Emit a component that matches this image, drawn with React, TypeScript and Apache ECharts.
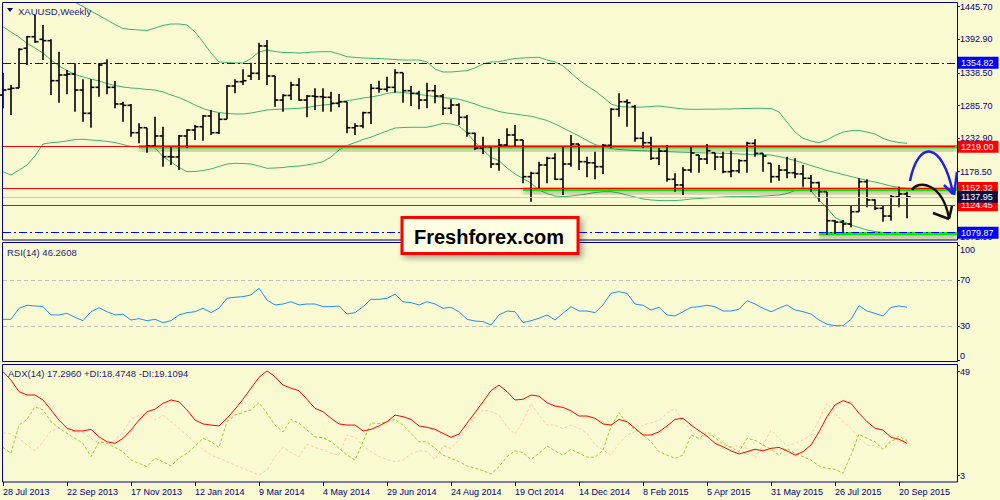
import React, { useEffect, useRef } from "react";
import * as echarts from "echarts";

const MONTHS = ["Jan", "Feb", "Mar", "Apr", "May", "Jun", "Jul", "Aug", "Sep", "Oct", "Nov", "Dec"];
const FIRST_WEEK = Date.UTC(2013, 6, 28);
const WEEK_COUNT = 120;
const weeks: string[] = Array.from({ length: WEEK_COUNT }, (_, i) => {
  const d = new Date(FIRST_WEEK + i * 7 * 86400000);
  return `${d.getUTCDate()} ${MONTHS[d.getUTCMonth()]} ${d.getUTCFullYear()}`;
});

const opens = [
  1302.7, 1312.0, 1314.1, 1378.4, 1397.1, 1392.9, 1390.7, 1325.9, 1335.1, 1336.7,
  1310.8, 1273.1, 1315.2, 1354.1, 1315.2, 1288.2, 1286.0, 1241.7, 1249.8, 1220.2,
  1236.4, 1202.9, 1202.4, 1236.4, 1246.1, 1251.4, 1268.8, 1241.7, 1263.4, 1317.3,
  1324.3, 1333.5, 1337.9, 1382.1, 1333.5, 1294.6, 1302.0, 1318.9, 1294.6, 1301.0,
  1300.0, 1299.0, 1289.3, 1291.9, 1249.8, 1252.6, 1274.1, 1313.6, 1312.0, 1315.2,
  1338.9, 1309.7, 1305.5, 1294.6, 1309.7, 1301.1, 1281.2, 1286.6, 1266.6, 1240.7,
  1216.5, 1219.1, 1191.0, 1221.8, 1238.0, 1229.9, 1170.5, 1176.0, 1189.4, 1200.3,
  1166.3, 1191.0, 1223.4, 1194.8, 1193.0, 1186.7, 1221.3, 1279.6, 1291.9, 1284.0,
  1232.6, 1225.5, 1200.3, 1212.0, 1166.3, 1157.1, 1181.3, 1205.6, 1199.1, 1209.3,
  1202.4, 1178.6, 1180.0, 1196.4, 1224.5, 1208.3, 1192.2, 1170.5, 1181.3, 1176.9,
  1175.0, 1167.9, 1160.8, 1146.2, 1099.2, 1097.0, 1093.9, 1113.8, 1162.4, 1132.8,
  1119.3, 1106.8, 1138.1, 1142.5,
];
const highs = [
  1338.9, 1318.9, 1378.4, 1398.3, 1432.3, 1416.1, 1392.9, 1372.9, 1343.2, 1354.1,
  1328.2, 1328.2, 1354.1, 1360.5, 1325.4, 1291.9, 1288.2, 1257.0, 1249.8, 1267.6,
  1251.4, 1219.1, 1238.0, 1247.2, 1254.2, 1270.4, 1278.5, 1273.6, 1318.9, 1328.2,
  1344.3, 1355.0, 1387.4, 1391.8, 1333.5, 1303.9, 1324.3, 1329.8, 1302.7, 1313.6,
  1313.6, 1308.1, 1304.4, 1291.9, 1257.0, 1275.7, 1320.6, 1325.9, 1332.4, 1344.3,
  1338.9, 1317.3, 1309.7, 1322.6, 1318.9, 1304.4, 1295.8, 1289.3, 1270.4, 1241.7,
  1235.2, 1219.1, 1231.5, 1248.8, 1254.2, 1229.9, 1178.6, 1194.8, 1202.9, 1208.3,
  1219.1, 1238.0, 1223.4, 1202.9, 1211.0, 1223.4, 1281.2, 1305.5, 1295.8, 1286.5,
  1243.3, 1235.2, 1216.9, 1221.8, 1176.0, 1185.7, 1219.1, 1205.6, 1223.4, 1209.3,
  1211.0, 1212.6, 1198.6, 1227.1, 1231.0, 1208.3, 1192.2, 1189.4, 1202.9, 1200.3,
  1189.4, 1173.2, 1162.4, 1146.2, 1100.4, 1100.4, 1124.7, 1167.9, 1166.3, 1133.9,
  1124.7, 1140.8, 1154.3, 1146.2,
];
const lows = [
  1281.2, 1270.4, 1313.6, 1351.3, 1387.4, 1359.4, 1302.7, 1290.3, 1303.9, 1275.7,
  1259.5, 1249.8, 1300.0, 1303.9, 1281.2, 1259.5, 1235.2, 1224.6, 1209.3, 1219.1,
  1186.7, 1189.4, 1181.3, 1216.5, 1229.9, 1228.8, 1238.0, 1239.6, 1263.4, 1305.5,
  1318.9, 1327.1, 1327.1, 1318.9, 1283.8, 1275.7, 1294.6, 1293.5, 1266.6, 1278.5,
  1275.7, 1275.7, 1282.8, 1240.7, 1238.0, 1248.8, 1255.8, 1306.5, 1308.1, 1306.5,
  1290.3, 1284.9, 1279.6, 1281.2, 1289.3, 1270.4, 1272.0, 1254.2, 1235.2, 1213.7,
  1207.2, 1184.6, 1180.2, 1219.1, 1219.1, 1159.8, 1130.0, 1151.7, 1159.8, 1165.1,
  1140.8, 1186.7, 1181.3, 1169.5, 1166.3, 1174.8, 1216.5, 1267.6, 1251.4, 1227.1,
  1216.5, 1197.5, 1189.4, 1162.4, 1146.2, 1140.8, 1177.0, 1177.0, 1191.0, 1181.3,
  1176.0, 1169.5, 1176.0, 1177.0, 1202.9, 1178.6, 1160.8, 1164.0, 1167.9, 1167.9,
  1154.3, 1146.2, 1130.0, 1076.1, 1077.7, 1078.8, 1088.5, 1113.8, 1120.9, 1116.6,
  1097.6, 1099.2, 1120.9, 1103.1,
];
const closes = [
  1310.8, 1313.6, 1376.7, 1397.1, 1389.0, 1390.7, 1325.9, 1335.1, 1336.7, 1310.8,
  1273.1, 1315.2, 1351.3, 1315.2, 1288.2, 1286.0, 1241.7, 1249.8, 1220.2, 1236.4,
  1202.9, 1202.4, 1236.4, 1246.1, 1251.4, 1268.8, 1241.7, 1263.4, 1317.3, 1324.3,
  1325.9, 1337.9, 1382.1, 1333.5, 1294.6, 1302.0, 1318.9, 1294.6, 1301.0, 1300.0,
  1299.0, 1289.3, 1291.9, 1249.8, 1252.6, 1274.1, 1313.6, 1312.0, 1315.2, 1338.9,
  1309.7, 1305.5, 1294.6, 1309.7, 1301.1, 1281.2, 1286.6, 1266.6, 1240.7, 1216.5,
  1219.1, 1191.0, 1221.8, 1238.0, 1229.9, 1170.5, 1176.0, 1189.4, 1200.3, 1166.3,
  1191.0, 1223.4, 1194.8, 1193.0, 1186.7, 1221.3, 1279.6, 1291.9, 1290.3, 1232.6,
  1225.5, 1200.3, 1212.0, 1166.3, 1157.1, 1181.3, 1208.8, 1199.1, 1212.6, 1202.4,
  1178.6, 1180.0, 1196.4, 1224.5, 1208.3, 1204.0, 1170.5, 1181.3, 1176.9, 1175.0,
  1167.9, 1160.8, 1146.2, 1099.2, 1097.0, 1093.9, 1113.8, 1162.4, 1132.8, 1119.3,
  1106.8, 1138.1, 1142.5, 1137.95,
];

const bbUpper = [
  null, null, null, null, null, null, null, null, null, 1452.8,
  1446.0, 1438.7, 1431.5, 1424.2, 1416.9, 1410.4, 1408.8, 1408.0, 1407.2, 1411.2,
  1415.3, 1417.7, 1417.7, 1416.1, 1404.7, 1388.6, 1370.7, 1356.2, 1355.4, 1354.6,
  1354.6, 1361.8, 1372.4, 1375.6, 1373.2, 1371.5, 1371.5, 1370.7, 1371.5, 1372.4,
  1372.9, 1372.9, 1369.1, 1364.8, 1363.5, 1362.6, 1362.2, 1361.8, 1361.0, 1360.2,
  1359.4, 1359.4, 1359.4, 1356.2, 1344.8, 1340.0, 1340.0, 1341.1, 1342.1, 1346.5,
  1353.0, 1356.2, 1356.7, 1359.4, 1361.8, 1362.6, 1363.5, 1363.8, 1359.4, 1356.2,
  1349.7, 1338.4, 1327.0, 1317.3, 1309.2, 1299.5, 1288.2, 1284.1, 1283.3, 1282.8,
  1283.3, 1284.1, 1284.9, 1283.3, 1281.7, 1280.1, 1279.6, 1279.6, 1279.8, 1279.8,
  1280.1, 1280.1, 1280.6, 1280.9, 1281.2, 1281.2, 1280.9, 1275.2, 1259.0, 1242.8,
  1232.6, 1228.3, 1225.5, 1229.9, 1237.2, 1242.8, 1244.9, 1245.3, 1242.8, 1239.6,
  1232.6, 1228.3, 1225.8, 1224.6,
];
const bbMiddle = [
  1413.3, 1404.7, 1396.6, 1386.4, 1378.8, 1370.7, 1359.4, 1349.7, 1342.4, 1335.9,
  1331.9, 1328.6, 1325.4, 1321.4, 1318.1, 1315.7, 1314.1, 1313.3, 1311.7, 1310.8,
  1307.6, 1302.7, 1298.7, 1293.0, 1286.5, 1280.9, 1276.8, 1274.4, 1272.8, 1272.0,
  1272.0, 1273.6, 1276.0, 1278.5, 1279.3, 1280.1, 1280.6, 1281.2, 1282.5, 1284.9,
  1286.5, 1287.7, 1290.6, 1293.5, 1295.4, 1297.9, 1299.5, 1301.9, 1305.2, 1307.6,
  1306.8, 1305.2, 1303.6, 1301.9, 1300.3, 1298.4, 1297.4, 1296.0, 1292.2, 1288.2,
  1283.3, 1280.1, 1276.0, 1273.6, 1272.0, 1270.0, 1268.5, 1265.0, 1261.5, 1255.8,
  1249.3, 1242.8, 1236.4, 1229.1, 1222.6, 1218.6, 1216.1, 1214.5, 1213.7, 1212.9,
  1212.4, 1212.1, 1211.6, 1211.0, 1210.5, 1210.0, 1209.7, 1209.3, 1208.8, 1208.5,
  1208.4, 1208.0, 1207.2, 1206.7, 1206.4, 1206.1, 1205.6, 1203.2, 1199.9, 1196.7,
  1192.6, 1188.6, 1184.6, 1180.5, 1177.3, 1174.1, 1170.8, 1167.6, 1164.3, 1161.9,
  1158.7, 1155.4, 1153.0, 1151.7,
];
const bbLower = [
  1178.6, 1173.2, 1181.3, 1189.4, 1204.0, 1223.4, 1225.5, 1226.6, 1228.3, 1230.7,
  1231.0, 1229.9, 1229.1, 1227.5, 1225.8, 1222.6, 1219.4, 1219.4, 1220.2, 1217.0,
  1202.9, 1194.3, 1185.4, 1178.6, 1178.9, 1180.5, 1183.0, 1187.0, 1191.0, 1192.2,
  1191.8, 1191.0, 1187.8, 1184.1, 1184.6, 1185.4, 1187.0, 1187.8, 1189.4, 1191.8,
  1194.8, 1202.4, 1213.7, 1221.0, 1225.8, 1230.7, 1234.7, 1239.6, 1244.5, 1249.3,
  1250.1, 1250.5, 1250.5, 1250.5, 1253.4, 1256.9, 1255.8, 1252.6, 1241.2, 1226.6,
  1213.7, 1201.6, 1196.4, 1184.6, 1174.8, 1167.6, 1160.3, 1149.0, 1143.3, 1139.2,
  1138.1, 1139.2, 1140.8, 1142.5, 1144.9, 1146.2, 1146.2, 1144.1, 1140.8, 1137.6,
  1134.4, 1132.8, 1131.9, 1131.6, 1131.9, 1132.8, 1134.4, 1135.2, 1136.0, 1136.8,
  1137.6, 1138.1, 1138.1, 1138.4, 1138.4, 1139.2, 1140.0, 1140.8, 1143.3, 1148.1,
  1153.0, 1147.3, 1132.8, 1119.8, 1104.4, 1098.0, 1092.3, 1088.2, 1084.2, 1081.7,
  1080.1, 1078.5, 1077.7, 1077.7,
];

const rsi = [
  35.8, 35.8, 45.4, 48.0, 47.4, 46.8, 39.6, 39.6, 41.0, 37.5,
  34.6, 42.4, 45.9, 42.4, 39.6, 40.2, 35.2, 36.4, 34.6, 35.8,
  32.9, 34.6, 39.6, 41.6, 42.4, 45.4, 41.6, 45.4, 54.1, 55.0,
  55.5, 57.0, 62.8, 52.6, 48.3, 49.1, 51.1, 48.3, 49.1, 49.1,
  46.8, 46.8, 47.4, 40.4, 41.6, 46.8, 53.2, 53.2, 54.1, 57.6,
  51.1, 50.3, 48.3, 51.1, 49.1, 45.4, 46.2, 42.4, 35.8, 34.3,
  33.8, 30.9, 39.6, 43.0, 42.4, 32.9, 34.6, 36.7, 39.6, 35.2,
  41.0, 46.8, 43.0, 43.0, 41.6, 48.3, 58.4, 59.9, 58.4, 49.1,
  48.0, 43.9, 46.2, 39.6, 38.7, 42.4, 46.2, 46.8, 48.0, 46.8,
  43.0, 43.0, 44.5, 52.0, 49.1, 45.4, 42.4, 45.4, 48.3, 43.9,
  42.4, 40.4, 35.2, 31.5, 30.3, 30.3, 35.8, 47.7, 43.0, 41.0,
  38.7, 46.2, 47.4, 46.26,
];

const adx = [
  49.0, 45.3, 40.2, 38.7, 38.7, 36.5, 32.1, 27.6, 24.0, 22.8,
  22.8, 23.5, 20.2, 18.0, 17.3, 19.5, 23.2, 27.6, 31.3, 32.4,
  35.0, 36.5, 35.7, 32.1, 27.6, 25.9, 25.4, 25.0, 28.4, 32.4,
  36.8, 41.7, 46.5, 49.4, 46.8, 43.1, 41.7, 40.6, 36.8, 32.8,
  31.3, 28.4, 25.9, 25.4, 25.4, 22.8, 23.5, 25.0, 26.9, 29.8,
  29.1, 27.9, 25.0, 24.4, 23.5, 21.7, 20.0, 21.4, 26.2, 30.9,
  35.7, 40.6, 43.1, 40.2, 36.5, 36.8, 38.7, 38.2, 35.3, 33.8,
  33.2, 31.7, 29.4, 29.4, 28.4, 25.9, 25.4, 27.9, 26.9, 24.0,
  21.0, 21.0, 22.4, 25.0, 27.9, 28.4, 25.4, 22.9, 20.5, 17.3,
  15.8, 14.0, 12.6, 13.6, 14.7, 14.0, 15.1, 15.5, 14.0, 12.1,
  13.6, 16.6, 22.4, 29.1, 34.3, 36.2, 35.0, 30.6, 26.9, 24.0,
  23.2, 20.0, 19.1, 17.3,
];
const plusDI = [
  15.5, 12.9, 25.4, 27.9, 33.5, 32.1, 26.9, 24.2, 21.7, 19.5,
  17.3, 11.4, 18.0, 17.3, 15.5, 13.6, 9.9, 8.5, 7.0, 10.7,
  9.2, 7.3, 10.7, 12.9, 16.0, 19.5, 18.0, 15.5, 26.9, 29.8,
  31.0, 32.1, 35.3, 30.6, 25.4, 22.4, 27.9, 26.2, 23.2, 20.2,
  19.8, 18.0, 15.1, 12.1, 9.9, 18.0, 26.4, 26.0, 26.9, 27.9,
  25.4, 21.7, 18.0, 18.0, 15.1, 12.1, 10.7, 9.2, 7.3, 6.3,
  5.2, 3.7, 7.0, 11.4, 14.0, 13.2, 10.2, 12.9, 16.1, 14.0,
  12.1, 14.7, 12.9, 11.2, 11.2, 14.3, 24.7, 30.9, 26.2, 23.5,
  21.0, 18.0, 13.6, 12.1, 10.7, 12.1, 21.0, 19.5, 22.4, 19.8,
  16.9, 15.5, 13.6, 19.5, 18.7, 16.6, 14.7, 12.1, 15.1, 12.9,
  11.4, 9.9, 7.3, 6.3, 5.8, 4.1, 12.1, 21.4, 19.5, 18.0,
  14.7, 18.0, 20.5, 18.47,
];
const minusDI = [
  22.0, 21.4, 19.5, 16.6, 14.0, 18.0, 22.9, 23.9, 23.5, 22.4,
  22.0, 19.5, 17.3, 16.6, 18.8, 22.4, 27.9, 29.8, 30.3, 27.6,
  29.8, 26.9, 23.9, 21.0, 17.3, 14.7, 12.1, 10.7, 9.2, 7.7,
  6.2, 4.8, 3.3, 5.5, 11.4, 15.5, 13.2, 11.4, 17.0, 15.5,
  14.4, 12.9, 12.1, 21.0, 20.0, 16.2, 13.6, 11.4, 10.2, 9.2,
  9.9, 12.6, 14.0, 13.6, 10.2, 16.2, 15.1, 18.8, 23.9, 28.9,
  32.1, 31.3, 29.8, 24.7, 21.4, 26.9, 35.0, 29.8, 25.4, 25.4,
  23.9, 25.4, 23.9, 21.7, 16.6, 14.4, 12.1, 17.3, 21.0, 22.4,
  25.4, 26.4, 27.6, 30.6, 32.8, 26.9, 23.2, 18.8, 20.5, 21.0,
  18.0, 15.8, 16.2, 15.1, 10.7, 16.6, 23.2, 19.5, 16.2, 17.3,
  18.8, 21.0, 27.6, 35.0, 30.6, 26.9, 23.9, 19.5, 16.6, 16.2,
  14.7, 18.8, 18.0, 19.1,
];

const priceTicks = [1072.9, 1178.5, 1232.9, 1285.7, 1338.5, 1392.9, 1445.7];
const rsiTicks = [0, 30, 70, 100];
const adxTicks = [3, 49];
const rsiLevels = [70, 30];
const redLevels = [1219.0, 1152.32, 1124.45];
const blueLevels = [1354.82, 1079.87];
const bidLevel = 1137.95;
const greenLines = [
  { from: 17, price: 1219.0 },
  { from: 65, price: 1150.0 },
  { from: 102, price: 1078.0 },
];

const NAVY = "#000080";
const FONT = "Liberation Sans";

function renderOhlc(_params: any, api: any) {
  const idx = api.value(0);
  const x = api.coord([idx, api.value(1)])[0];
  const yo = api.coord([idx, api.value(1)])[1];
  const yh = api.coord([idx, api.value(2)])[1];
  const yl = api.coord([idx, api.value(3)])[1];
  const yc = api.coord([idx, api.value(4)])[1];
  const style = { stroke: "#000000", lineWidth: 1.6 };
  return {
    type: "group",
    children: [
      { type: "line", shape: { x1: x, y1: yh, x2: x, y2: yl }, style },
      { type: "line", shape: { x1: x - 3.5, y1: yo, x2: x, y2: yo }, style },
      { type: "line", shape: { x1: x, y1: yc, x2: x + 3.5, y2: yc }, style },
    ],
  };
}

function renderTrend(_params: any, api: any) {
  const p1 = api.coord([api.value(0), api.value(2)]);
  const p2 = api.coord([api.value(1), api.value(2)]);
  return {
    type: "rect",
    shape: { x: p1[0], y: p1[1] - 1.75, width: p2[0] - p1[0] + 2, height: 3.5 },
    style: {
      fill: "#00ee00",
      shadowColor: "rgba(0,0,0,0.35)",
      shadowBlur: 5,
      shadowOffsetY: 3,
    },
  };
}

function levelLabel(bg: string, v: number) {
  return {
    show: true,
    position: "end",
    distance: 3,
    formatter: () => v.toFixed(2),
    backgroundColor: bg,
    color: "#ffffff",
    fontSize: 9,
    fontFamily: FONT,
    padding: [2, 5, 1, 3],
  };
}

export default function App() {
  const ref = useRef<HTMLDivElement>(null);
  useEffect(() => {
    if (!ref.current) return;
    const chart = echarts.init(ref.current, null, { renderer: "svg" });
    const ohlcData = opens.map((o, i) => [i, o, highs[i], lows[i], closes[i]]);
    const trendData = greenLines.map((g) => [g.from, WEEK_COUNT - 1, g.price]);

    const priceMarks: any[] = [];
    redLevels.forEach((v) =>
      priceMarks.push({ yAxis: v, lineStyle: { color: "#ff0000", width: 1, type: "solid" }, label: levelLabel("#ff0000", v) })
    );
    priceMarks.push({ yAxis: bidLevel, lineStyle: { color: "#c8c8c8", width: 1, type: "solid" }, label: levelLabel("#101040", bidLevel) });
    blueLevels.forEach((v) =>
      priceMarks.push({ yAxis: v, lineStyle: { color: "#0000ff", width: 1.2, type: [8, 3, 2, 3] }, label: levelLabel("#0000ff", v) })
    );

    const commonX = {
      type: "category",
      data: weeks,
      boundaryGap: false,
      axisLine: { show: false },
      axisTick: { show: false },
      axisLabel: { show: false },
      splitLine: { show: false },
    };
    const yCommon = (ticks: number[], fmt: (v: number) => string, edgeAlign: boolean) => ({
      type: "value",
      position: "right",
      offset: 2,
      scale: true,
      splitLine: { show: false },
      axisLine: { show: false },
      axisTick: { show: true, length: 3, customValues: ticks, lineStyle: { color: NAVY } },
      axisLabel: {
        customValues: ticks,
        formatter: (v: number) => fmt(v),
        color: NAVY,
        fontSize: 9,
        fontFamily: FONT,
        margin: 3,
        verticalAlignMaxLabel: edgeAlign ? "top" : "middle",
        verticalAlignMinLabel: edgeAlign ? "bottom" : "middle",
      },
    });

    const textStyle = (text: string, x: number, y: number) => ({
      type: "text",
      x,
      y,
      z: 60,
      silent: true,
      style: {
        text,
        fill: "#1a1a80",
        fontSize: 9.5,
        fontFamily: FONT,
        verticalAlign: "middle",
        textVerticalAlign: "middle",
      },
    });

    chart.setOption({
      animation: false,
      backgroundColor: "transparent",
      grid: [
        { left: 3, width: 952, top: 2.5, height: 237.5, containLabel: false, outerBoundsMode: "none" },
        { left: 3, width: 952, top: 242.5, height: 119, containLabel: false, outerBoundsMode: "none" },
        { left: 3, width: 952, top: 364.5, height: 117.5, containLabel: false, outerBoundsMode: "none" },
      ],
      xAxis: [
        { ...commonX, gridIndex: 0 },
        { ...commonX, gridIndex: 1 },
        {
          ...commonX,
          gridIndex: 2,
          axisTick: { show: true, interval: 7, length: 4, lineStyle: { color: NAVY } },
          axisLabel: {
            show: true,
            interval: 7,
            align: "left",
            color: NAVY,
            fontSize: 9,
            fontFamily: FONT,
            margin: 5,
          },
        },
      ],
      yAxis: [
        { ...yCommon(priceTicks, (v) => v.toFixed(2), false), gridIndex: 0, min: 1068.0, max: 1452.5 },
        { ...yCommon(rsiTicks, (v) => String(v), true), gridIndex: 1, min: -0.9, max: 102.6 },
        { ...yCommon(adxTicks, (v) => String(v), false), gridIndex: 2, min: 0.2, max: 52.2 },
      ],
      series: [
        {
          type: "line",
          name: "bbUpper",
          xAxisIndex: 0,
          yAxisIndex: 0,
          data: bbUpper,
          symbol: "none",
          z: 2,
          lineStyle: { color: "#3CB371", width: 1 },
        },
        {
          type: "line",
          name: "bbMiddle",
          xAxisIndex: 0,
          yAxisIndex: 0,
          data: bbMiddle,
          symbol: "none",
          z: 2,
          lineStyle: { color: "#3CB371", width: 1 },
          markLine: { silent: true, symbol: ["none", "none"], animation: false, data: priceMarks },
        },
        {
          type: "line",
          name: "bbLower",
          xAxisIndex: 0,
          yAxisIndex: 0,
          data: bbLower,
          symbol: "none",
          z: 2,
          lineStyle: { color: "#3CB371", width: 1 },
        },
        {
          type: "custom",
          name: "trendlines",
          xAxisIndex: 0,
          yAxisIndex: 0,
          data: trendData,
          renderItem: renderTrend,
          encode: { x: [0, 1], y: 2 },
          clip: false,
          z: 3,
        },
        {
          type: "custom",
          name: "XAUUSD",
          xAxisIndex: 0,
          yAxisIndex: 0,
          data: ohlcData,
          renderItem: renderOhlc,
          encode: { x: 0, y: [1, 2, 3, 4] },
          z: 4,
        },
        {
          type: "line",
          name: "RSI",
          xAxisIndex: 1,
          yAxisIndex: 1,
          data: rsi,
          symbol: "none",
          lineStyle: { color: "#1E90FF", width: 1 },
          markLine: {
            silent: true,
            symbol: ["none", "none"],
            label: { show: false },
            lineStyle: { color: "#c0c0c0", type: [4, 3], width: 1 },
            data: rsiLevels.map((v) => ({ yAxis: v })),
          },
        },
        {
          type: "line",
          name: "-DI",
          xAxisIndex: 2,
          yAxisIndex: 2,
          data: minusDI,
          symbol: "none",
          lineStyle: { color: "#F5CDA8", width: 1, type: [3, 2] },
        },
        {
          type: "line",
          name: "+DI",
          xAxisIndex: 2,
          yAxisIndex: 2,
          data: plusDI,
          symbol: "none",
          lineStyle: { color: "#9ACD32", width: 1, type: [3, 2] },
        },
        {
          type: "line",
          name: "ADX",
          xAxisIndex: 2,
          yAxisIndex: 2,
          data: adx,
          symbol: "none",
          lineStyle: { color: "#FF0000", width: 1 },
        },
      ],
      graphic: [
        { type: "rect", z: 50, silent: true, shape: { x: 2.5, y: 2.5, width: 955, height: 237.5 }, style: { fill: "none", stroke: NAVY, lineWidth: 1 } },
        { type: "rect", z: 50, silent: true, shape: { x: 2.5, y: 242.5, width: 955, height: 119 }, style: { fill: "none", stroke: NAVY, lineWidth: 1 } },
        { type: "rect", z: 50, silent: true, shape: { x: 2.5, y: 364.5, width: 955, height: 117.5 }, style: { fill: "none", stroke: NAVY, lineWidth: 1 } },
        { type: "polygon", z: 60, silent: true, shape: { points: [[7, 8], [13, 8], [10, 12]] }, style: { fill: NAVY } },
        textStyle("XAUUSD,Weekly", 18, 11),
        textStyle("RSI(14) 46.2608", 7, 252),
        textStyle("ADX(14) 17.2960 +DI:18.4748 -DI:19.1094", 8, 373.5),
        {
          type: "rect",
          z: 70,
          silent: true,
          shape: { x: 402, y: 217.5, width: 176, height: 36 },
          style: {
            fill: "#FFFFE4",
            stroke: "#FF0000",
            lineWidth: 3,
            shadowBlur: 6,
            shadowOffsetX: 3,
            shadowOffsetY: 3,
            shadowColor: "rgba(0,0,0,0.35)",
          },
        },
        {
          type: "text",
          z: 71,
          silent: true,
          x: 489,
          y: 237,
          style: {
            text: "Freshforex.com",
            fill: "#000000",
            fontSize: 20,
            fontWeight: "bold",
            fontFamily: FONT,
            align: "center",
            verticalAlign: "middle",
            textAlign: "center",
            textVerticalAlign: "middle",
          },
        },
        {
          type: "bezierCurve",
          z: 65,
          silent: true,
          shape: { x1: 910, y1: 181, cpx1: 918, cpy1: 140, cpx2: 942, cpy2: 140, x2: 953, y2: 193 },
          style: { stroke: "#1f1fe6", lineWidth: 2.5, fill: "none" },
        },
        { type: "polyline", z: 65, silent: true, shape: { points: [[944, 185], [953, 194]] }, style: { stroke: "#1f1fe6", lineWidth: 2.5 } },
        { type: "polyline", z: 65, silent: true, shape: { points: [[957, 172], [954, 195]] }, style: { stroke: "#1f1fe6", lineWidth: 2.5 } },
        {
          type: "bezierCurve",
          z: 65,
          silent: true,
          shape: { x1: 912, y1: 190, cpx1: 918, cpy1: 180, cpx2: 942, cpy2: 182, x2: 949, y2: 218 },
          style: { stroke: "#111111", lineWidth: 2.5, fill: "none" },
        },
        { type: "polyline", z: 65, silent: true, shape: { points: [[933, 213], [949, 219]] }, style: { stroke: "#111111", lineWidth: 2.5 } },
        { type: "polyline", z: 65, silent: true, shape: { points: [[952, 206], [949, 219]] }, style: { stroke: "#111111", lineWidth: 2.5 } },
      ],
    });
    return () => chart.dispose();
  }, []);

  return (
    <div
      ref={ref}
      style={{ position: "absolute", left: 0, top: 0, width: 1000, height: 500, background: "#FAFAD2" }}
    />
  );
}
